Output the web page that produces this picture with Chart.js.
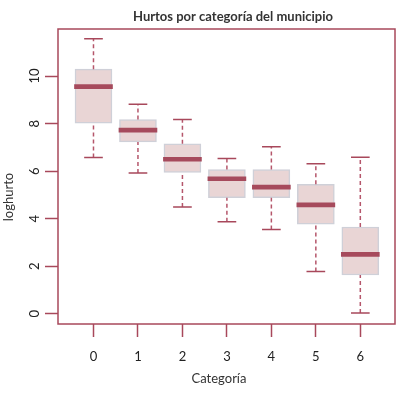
<!DOCTYPE html>
<html>
<head>
<meta charset="utf-8">
<script src="https://cdn.jsdelivr.net/npm/chart.js@4/dist/chart.umd.min.js"></script>
<style>
  html, body { margin: 0; padding: 0; background: #fff; }
  #wrap { width: 403px; height: 396px; }
</style>
</head>
<body>
<div id="wrap"><canvas id="myChart"></canvas></div>
<script>
// boxplot values (loghurto per categoria)
var categories  = [0, 1, 2, 3, 4, 5, 6];
var lowWhisker  = [6.57, 5.92, 4.49, 3.87, 3.55, 1.78, 0.03];
var q1          = [8.02, 7.23, 5.95, 4.88, 4.88, 3.77, 1.63];
var medians     = [9.56, 7.73, 6.50, 5.68, 5.33, 4.58, 2.50];
var q3          = [10.29, 8.17, 7.15, 6.07, 6.07, 5.45, 3.65];
var highWhisker = [11.57, 8.81, 8.17, 6.53, 7.03, 6.31, 6.59];
var yTicks = [0, 2, 4, 6, 8, 10];

var rose = '#a8485b';
var capHalf = 0.21;
var medianHalf = 0.085;

var boxData = categories.map(function(c, i) { return {x: c, y: [q1[i], q3[i]]}; });
var medianData = categories.map(function(c, i) { return {x: c, y: [medians[i] - medianHalf, medians[i] + medianHalf]}; });
var whiskerData = [];
var capData = [];
categories.forEach(function(c, i) {
  whiskerData.push({x: c, y: q3[i]}, {x: c, y: highWhisker[i]}, {x: c, y: null},
                   {x: c, y: lowWhisker[i]}, {x: c, y: q1[i]}, {x: c, y: null});
  capData.push({x: c - capHalf, y: highWhisker[i]}, {x: c + capHalf, y: highWhisker[i]}, {x: c, y: null},
               {x: c - capHalf, y: lowWhisker[i]}, {x: c + capHalf, y: lowWhisker[i]}, {x: c, y: null});
});

var frameAndTitles = {
  id: 'frameAndTitles',
  afterDraw: function(chart) {
    var a = chart.chartArea, c = chart.ctx;
    c.save();
    c.strokeStyle = rose;
    c.lineWidth = 1.5;
    c.strokeRect(a.left, a.top, a.right - a.left, a.bottom - a.top);
    c.fillStyle = '#333';
    c.textAlign = 'center';
    c.textBaseline = 'middle';
    c.font = 'bold 13px Lato';
    c.fillText('Hurtos por categoría del municipio', 233, 17);
    c.font = '13px Lato';
    c.fillText('Categoría', 219, 379);
    c.translate(9, 197);
    c.rotate(-Math.PI / 2);
    c.fillText('loghurto', 0, 0);
    c.restore();
  }
};

var ctx = document.getElementById('myChart').getContext('2d');
var myChart = new Chart(ctx, {
  type: 'bar',
  data: {
    datasets: [{
        type: 'bar',
        data: medianData,
        backgroundColor: '#a64a5c',
        borderWidth: 0,
        barThickness: 38,
        grouped: false,
        order: 0
      }, {
        type: 'line',
        data: capData,
        borderColor: rose,
        borderWidth: 1.5,
        pointRadius: 0,
        spanGaps: false,
        order: 1
      }, {
        type: 'line',
        data: whiskerData,
        borderColor: '#b5566b',
        borderWidth: 1.5,
        borderDash: [4, 3],
        pointRadius: 0,
        spanGaps: false,
        order: 2
      }, {
        type: 'bar',
        data: boxData,
        backgroundColor: '#e9d5d5',
        borderColor: '#cfd0d8',
        borderWidth: 1.5,
        borderSkipped: false,
        barThickness: 37,
        grouped: false,
        order: 3
      }
    ]
  },
  options: {
    responsive: true,
    maintainAspectRatio: false,
    animation: false,
    layout: { padding: { top: 29, right: 8, left: 0, bottom: 0 } },
    plugins: {
      legend: { display: false },
      tooltip: { enabled: false },
      title: { display: false }
    },
    scales: {
      x: {
        type: 'linear',
        min: -0.798,
        max: 6.78,
        offset: false,
        afterFit: function(s) { s.height = 72; },
        afterBuildTicks: function(s) { s.ticks = categories.map(function(v) { return {value: v}; }); },
        grid: { drawOnChartArea: false, offset: false, tickLength: 13, tickWidth: 1.5, tickColor: rose, color: rose },
        border: { display: false },
        ticks: { padding: 12, maxRotation: 0, font: { family: 'Lato', size: 13 }, color: '#222' }
      },
      y: {
        min: -0.43,
        max: 11.98,
        afterFit: function(s) { s.width = 58; },
        afterBuildTicks: function(s) { s.ticks = yTicks.map(function(v) { return {value: v}; }); },
        grid: { drawOnChartArea: false, tickLength: 13, tickWidth: 1.5, tickColor: rose, color: rose },
        border: { display: false },
        ticks: { minRotation: 90, maxRotation: 90, crossAlign: 'center', padding: 3, font: { family: 'Lato', size: 13 }, color: '#222' }
      }
    }
  },
  plugins: [frameAndTitles]
});
</script>
</body>
</html>
